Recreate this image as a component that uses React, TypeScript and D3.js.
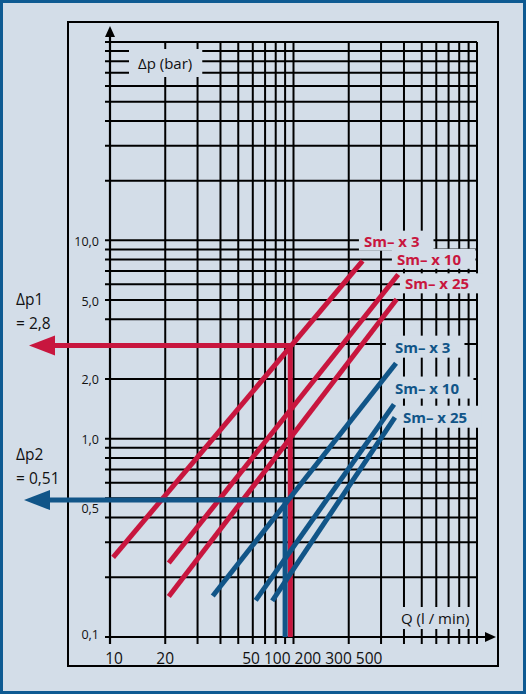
import { useEffect, useRef } from 'react';
import * as d3 from 'd3';

const W = 526;
const H = 694;
const BG = '#d3dde8';
const BORDER = '#0e5a92';
const RED = '#c8163e';
const BLUE = '#115588';

// grid positions (log paper)
const qGrid = [10, 20, 30, 40, 50, 60, 70, 80, 90, 100, 200, 300, 400, 500, 600, 700, 800, 900, 1000];
const pGrid = [0.1, 0.2, 0.3, 0.4, 0.5, 0.6, 0.7, 0.8, 0.9, 1, 2, 3, 4, 5, 6, 7, 8, 9, 10, 20, 30, 40, 50, 60, 70, 80, 90, 100];

// tick labels
const yTickValues = [10, 5, 2, 1, 0.5, 0.1];
const yTickLabels = ['10,0', '5,0', '2,0', '1,0', '0,5', '0,1'];
const xTickValues = [10, 20];
const xTickLabels = ['10', '20'];
const xTickTail = ['50', '100', '200', '300', '500'];

// filter element curves
const seriesNames = ['Sm– x 3', 'Sm– x 10', 'Sm– x 25'];
const redStartQ = [10.4, 20.9, 20.9];
const redStartP = [0.252, 0.236, 0.16];
const redEndQ = [238, 372, 365];
const redEndP = [7.87, 6.73, 5.05];
const blueStartQ = [36.3, 62.2, 76.6];
const blueStartP = [0.161, 0.153, 0.152];
const blueEndQ = [362, 353, 357];
const blueEndP = [2.4, 1.49, 1.28];
const redLabelQ = [242, 366, 405];
const redLabelP = [9.96, 8.07, 6.07];
const blueLabelQ = [357, 357, 395];
const blueLabelP = [2.91, 1.81, 1.29];

// reading example
const readQ = [96, 90];
const readP = [2.95, 0.49];
const readNames = ['Δp1', 'Δp2'];
const readValues = ['= 2,8', '= 0,51'];

export default function App() {
  const svgRef = useRef<SVGSVGElement>(null);

  useEffect(() => {
    if (!svgRef.current) return;
    const svg = d3.select(svgRef.current);
    svg.selectAll('*').remove();

    const x = d3.scaleLog().domain([10, 1000]).range([110, 477]);
    const y = d3.scaleLog().domain([0.1, 100]).range([637, 42]);
    const x0 = x(10);
    const y0 = y(0.1);
    const xR = x(1000);
    const yT = y(100);

    // background + borders
    svg.append('rect')
      .attr('x', 1.5).attr('y', 1.5)
      .attr('width', W - 3).attr('height', H - 3)
      .attr('fill', BG).attr('stroke', BORDER).attr('stroke-width', 3);
    svg.append('rect')
      .attr('x', 68).attr('y', 22)
      .attr('width', 430).attr('height', 644)
      .attr('fill', 'none').attr('stroke', '#000').attr('stroke-width', 2);

    // grid
    const grid = svg.append('g').attr('stroke', '#000').attr('stroke-width', 2);
    grid.selectAll('line.v')
      .data(qGrid.filter(q => q > 10))
      .join('line').attr('class', 'v')
      .attr('x1', d => x(d)).attr('x2', d => x(d))
      .attr('y1', yT).attr('y2', y0 + 7);
    grid.selectAll('line.h')
      .data(pGrid.filter(p => p > 0.1))
      .join('line').attr('class', 'h')
      .attr('x1', x0 - 5).attr('x2', xR)
      .attr('y1', d => y(d)).attr('y2', d => y(d));

    // axes with arrows
    const axes = svg.append('g');
    axes.append('line')
      .attr('x1', x0).attr('x2', x0).attr('y1', y0 + 7).attr('y2', 36)
      .attr('stroke', '#000').attr('stroke-width', 2.2);
    axes.append('path')
      .attr('d', `M${x0},26 L${x0 - 5},37 L${x0 + 5},37 Z`).attr('fill', '#000');
    axes.append('line')
      .attr('x1', x0 - 5).attr('x2', 486).attr('y1', y0).attr('y2', y0)
      .attr('stroke', '#000').attr('stroke-width', 2.2);
    axes.append('path')
      .attr('d', `M496,${y0} L485,${y0 - 5} L485,${y0 + 5} Z`).attr('fill', '#000');

    const boxes = svg.append('g');
    const marks = svg.append('g');
    const texts = svg.append('g').attr('font-family', '"Open Sans", sans-serif');

    const boxed = (
      txt: string, tx: number, ty: number, color: string,
      size: number, weight: number, padL: number, padR: number, padY: number
    ) => {
      const t = texts.append('text')
        .attr('x', tx).attr('y', ty)
        .attr('dominant-baseline', 'central')
        .attr('fill', color).attr('font-size', size).attr('font-weight', weight)
        .text(txt);
      const b = (t.node() as SVGTextElement).getBBox();
      boxes.append('rect')
        .attr('x', b.x - padL).attr('y', ty - padY)
        .attr('width', b.width + padL + padR).attr('height', padY * 2)
        .attr('fill', BG);
    };

    // axis titles
    boxed('Δp (bar)', x0 + 28, yT + 21, '#111', 15, 400, 9, 10, 14);
    boxed('Q (l / min)', xR - 76, y0 - 19, '#111', 15, 400, 7, 4, 11);

    // curve labels
    seriesNames.forEach((n, i) => {
      boxed(n, x(redLabelQ[i]), y(redLabelP[i]), RED, 15, 700, 5, 14, 10);
      boxed(n, x(blueLabelQ[i]), y(blueLabelP[i]), BLUE, 15, 700, 9, 14, 11);
    });

    // tick labels
    texts.selectAll('text.yt')
      .data(yTickValues)
      .join('text').attr('class', 'yt')
      .attr('x', x0 - 11)
      .attr('y', d => y(d) + (d === 0.5 ? 10 : d === 0.1 ? -3 : 1))
      .attr('text-anchor', 'end').attr('dominant-baseline', 'central')
      .attr('font-size', 12.5).attr('fill', '#111')
      .text((_, i) => yTickLabels[i]);
    texts.selectAll('text.xt')
      .data(xTickValues)
      .join('text').attr('class', 'xt')
      .attr('x', d => x(d) + (d === 10 ? 4 : 0))
      .attr('y', y0 + 21)
      .attr('text-anchor', 'middle').attr('dominant-baseline', 'central')
      .attr('font-size', 15.5).attr('fill', '#111')
      .text((_, i) => xTickLabels[i]);
    texts.append('text')
      .attr('x', x(50) + 4).attr('y', y0 + 21)
      .attr('dominant-baseline', 'central')
      .attr('font-size', 15.5).attr('fill', '#111')
      .text(xTickTail.join(' '));

    // red curves
    const red = marks.append('g').attr('stroke', RED).attr('stroke-width', 5).attr('fill', 'none');
    seriesNames.forEach((_, i) => {
      red.append('line')
        .attr('x1', x(redStartQ[i])).attr('y1', y(redStartP[i]))
        .attr('x2', x(redEndQ[i])).attr('y2', y(redEndP[i]));
    });

    const blue = marks.append('g').attr('stroke', BLUE).attr('stroke-width', 5).attr('fill', 'none');

    // reading lines with arrows
    const tips = [29, 24];
    const colors = [RED, BLUE];
    readQ.forEach((q, i) => {
      const g = i === 0 ? red : blue;
      const py = y(readP[i]);
      g.append('path')
        .attr('d', `M${tips[i] + 24},${py} H${x(q)} V${y0}`)
        .attr('stroke-linejoin', 'miter');
      marks.append('path')
        .attr('d', `M${tips[i]},${py} L${tips[i] + 26},${py - 10} L${tips[i] + 26},${py + 10} Z`)
        .attr('fill', colors[i]);
      texts.append('text')
        .attr('x', 16).attr('y', py - 46)
        .attr('dominant-baseline', 'central')
        .attr('font-size', 15.5).attr('fill', '#111')
        .text(readNames[i]);
      texts.append('text')
        .attr('x', 16).attr('y', py - 22)
        .attr('dominant-baseline', 'central')
        .attr('font-size', 15.5).attr('fill', '#111')
        .text(readValues[i]);
    });

    // blue curves on top
    seriesNames.forEach((_, i) => {
      blue.append('line')
        .attr('x1', x(blueStartQ[i])).attr('y1', y(blueStartP[i]))
        .attr('x2', x(blueEndQ[i])).attr('y2', y(blueEndP[i]));
    });
  }, []);

  return (
    <svg
      ref={svgRef}
      width={W}
      height={H}
      style={{ position: 'absolute', left: 0, top: 0, display: 'block' }}
    />
  );
}
